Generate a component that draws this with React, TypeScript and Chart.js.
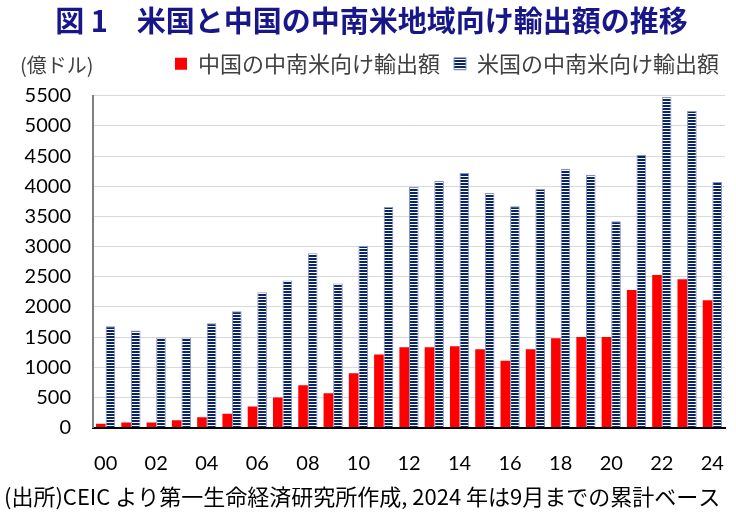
import { useEffect, useRef } from "react";
import { Chart, registerables } from "chart.js";

Chart.register(...registerables);

const years = ["00", "01", "02", "03", "04", "05", "06", "07", "08", "09", "10", "11", "12", "13", "14", "15", "16", "17", "18", "19", "20", "21", "22", "23", "24"];
const chinaExports = [65, 85, 85, 120, 170, 230, 350, 500, 700, 570, 900, 1210, 1330, 1330, 1350, 1300, 1110, 1300, 1480, 1500, 1500, 2280, 2530, 2460, 2110];
const usExports = [1680, 1610, 1495, 1495, 1730, 1930, 2245, 2440, 2890, 2390, 3010, 3655, 3990, 4090, 4220, 3890, 3670, 3955, 4290, 4190, 3420, 4520, 5480, 5250, 4070];
const chinaLabel = "中国の中南米向け輸出額";
const usLabel = "米国の中南米向け輸出額";
const titleText = "図 1　米国と中国の中南米地域向け輸出額の推移";
const unitText = "(億ドル)";
const sourceText = "(出所)CEIC より第一生命経済研究所作成, 2024 年は9月までの累計ベース";
const yMax = 5500;
const yStep = 500;

const JP = '"Noto Sans CJK JP", "Noto Sans", sans-serif';
const NUM = 'Lato, "Liberation Sans", sans-serif';

function makeStripes(ctx: CanvasRenderingContext2D): CanvasPattern | string {
  const c = document.createElement("canvas");
  c.width = 4;
  c.height = 3;
  const g = c.getContext("2d");
  if (!g) return "#0b2466";
  g.fillStyle = "#ffffff";
  g.fillRect(0, 0, 4, 3);
  g.fillStyle = "#0b2466";
  g.fillRect(0, 0, 4, 2);
  return ctx.createPattern(c, "repeat") || "#0b2466";
}

function shiftDraw(box: any, dx: number) {
  if (!box || box.__shifted) return;
  const orig = box.draw;
  box.draw = function (this: any, ...args: any[]) {
    const c = this.ctx as CanvasRenderingContext2D;
    c.save();
    c.translate(dx, 0);
    orig.apply(this, args);
    c.restore();
  };
  box.__shifted = true;
}

export default function App() {
  const ref = useRef<HTMLCanvasElement | null>(null);

  useEffect(() => {
    const canvas = ref.current;
    if (!canvas) return;
    const ctx = canvas.getContext("2d");
    if (!ctx) return;
    const stripes = makeStripes(ctx);

    const unitPlugin = {
      id: "unitLabel",
      beforeInit(chart: any) {
        const lg = chart.legend;
        if (lg && !lg.__patched) {
          const orig = lg.fit;
          lg.fit = function (this: any) {
            orig.call(this);
            this.height += 11;
          };
          lg.__patched = true;
        }
        shiftDraw(chart.legend, 8);
        shiftDraw(chart.titleBlock, 7);
      },
      afterDraw(chart: any) {
        const c = chart.ctx as CanvasRenderingContext2D;
        c.save();
        c.font = `20px ${JP}`;
        c.fillStyle = "#404040";
        c.textBaseline = "middle";
        c.textAlign = "left";
        c.fillText(unitText, 20, 65);
        c.restore();
      },
    };

    const chart = new Chart(ctx, {
      type: "bar",
      data: {
        labels: years,
        datasets: [
          {
            label: chinaLabel,
            data: chinaExports,
            backgroundColor: "#ff0000",
            borderWidth: 0,
            categoryPercentage: 0.76,
            barPercentage: 1,
          },
          {
            label: usLabel,
            data: usExports,
            backgroundColor: stripes as any,
            borderColor: "#8596c0",
            borderWidth: 1,
            categoryPercentage: 0.76,
            barPercentage: 1,
          },
        ],
      },
      options: {
        responsive: false,
        animation: false,
        layout: { padding: { left: 4, right: 11, top: 0, bottom: 8 } },
        plugins: {
          title: {
            display: true,
            text: titleText,
            color: "#17178a",
            font: { family: JP, size: 29, weight: "bold" },
            padding: { top: 4, bottom: 0 },
          },
          subtitle: {
            display: true,
            position: "bottom",
            align: "start",
            text: sourceText,
            color: "#000000",
            font: { family: JP, size: 22, weight: "normal" },
            padding: { top: 6, bottom: 1 },
          },
          legend: {
            display: true,
            position: "top",
            align: "end",
            labels: {
              boxWidth: 12,
              boxHeight: 12,
              padding: 14,
              color: "#404040",
              font: { family: JP, size: 22 },
            },
          },
          tooltip: { enabled: false },
        },
        scales: {
          x: {
            grid: { display: false, drawTicks: false },
            border: { display: true, color: "#000000", width: 2 },
            ticks: {
              autoSkip: false,
              maxRotation: 0,
              minRotation: 0,
              padding: 24,
              color: "#000000",
              font: { family: NUM, size: 20 },
              callback: (_v: any, i: number) => (i % 2 === 0 ? years[i] : ""),
            },
            afterFit: (s: any) => {
              s.height = 50;
              s.paddingLeft = 0;
              s.paddingRight = 0;
            },
          },
          y: {
            min: 0,
            max: yMax,
            ticks: {
              stepSize: yStep,
              padding: 22,
              color: "#000000",
              font: { family: NUM, size: 20 },
              callback: (v: any) => String(v),
            },
            grid: { color: "#d9d9d9", lineWidth: 1, drawTicks: false },
            border: { display: true, color: "#7f7f7f", width: 2 },
            afterFit: (s: any) => {
              s.width = 89;
            },
          },
        },
      },
      plugins: [unitPlugin],
    });

    return () => {
      chart.destroy();
    };
  }, []);

  return (
    <div style={{ position: "absolute", left: 0, top: 0, width: 736, height: 519, background: "#ffffff" }}>
      <canvas ref={ref} width={736} height={519} style={{ width: 736, height: 519, display: "block" }} />
    </div>
  );
}
